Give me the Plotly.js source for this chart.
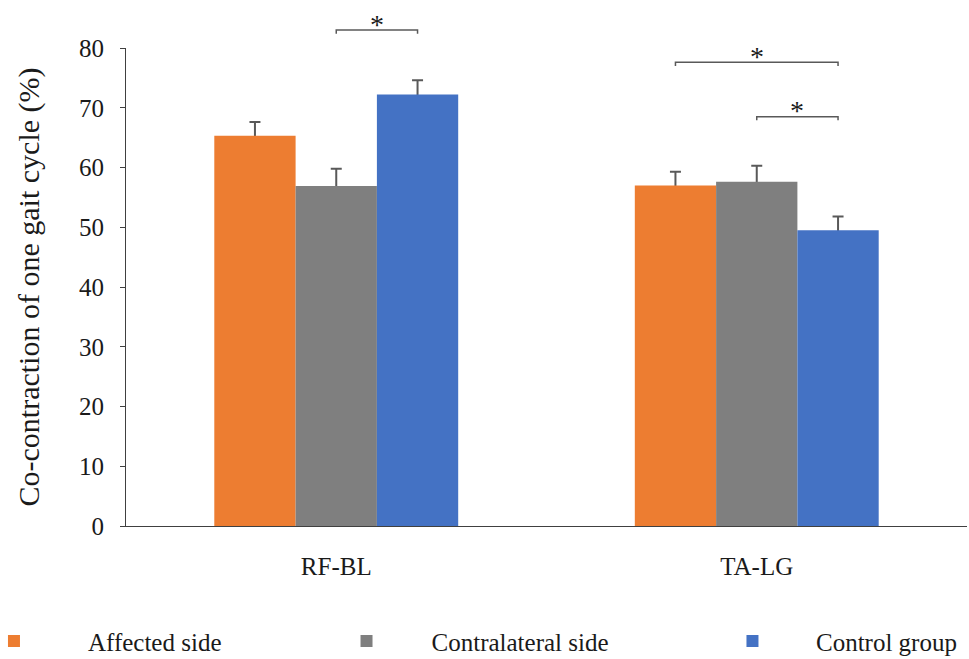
<!DOCTYPE html>
<html>
<head>
<meta charset="utf-8">
<script src="https://cdn.plot.ly/plotly-3.0.1.min.js"></script>
<style>html,body{margin:0;padding:0;background:#fff;}#chart{width:969px;height:659px;}</style>
</head>
<body>
<div id="chart"></div>
<script>
// ---- data ----
const categories = ['RF-BL', 'TA-LG'];
const seriesNames = ['Affected side', 'Contralateral side', 'Control group'];
const affected = [65.3, 57.0];
const affectedErr = [2.3, 2.3];
const contralateral = [56.9, 57.6];
const contralateralErr = [2.9, 2.7];
const control = [72.2, 49.5];
const controlErr = [2.4, 2.3];
const yTicks = [0, 10, 20, 30, 40, 50, 60, 70, 80];
// significance brackets: category index, bar index from, bar index to, level (%)
const bracketCat = [0, 1, 1];
const bracketFrom = [1, 0, 1];
const bracketTo = [2, 2, 2];
const bracketLevel = [83.0, 77.6, 68.5];
const bracketLabel = ['*', '*', '*'];

// ---- style ----
const colors = ['#ED7D31', '#7F7F7F', '#4472C4'];
const FONT = 'Liberation Serif, Times New Roman, serif';
const bargap = 0.42;
const yMax = 80;

const values = [affected, contralateral, control];
const errs = [affectedErr, contralateralErr, controlErr];
const legendIds = ['legend', 'legend2', 'legend3'];

// error bars live on transparent bars underneath; the visible bars (overlay subplot) hide the lower half
const errTraces = values.map((v, i) => ({
  type: 'bar', name: seriesNames[i], x: categories, y: v,
  marker: {color: 'rgba(0,0,0,0)', line: {width: 0}},
  error_y: {type: 'data', array: errs[i], color: '#595959', thickness: 2, width: 5.5},
  showlegend: false, hoverinfo: 'skip', xaxis: 'x', yaxis: 'y'
}));
const barTraces = values.map((v, i) => ({
  type: 'bar', name: seriesNames[i], x: categories, y: v,
  marker: {color: colors[i], line: {width: 0}},
  legend: legendIds[i], hoverinfo: 'x+y+name', xaxis: 'x2', yaxis: 'y2'
}));

// bar centre in category units -> paper x (range -0.5..1.5)
const nSeries = values.length;
const bw = (1 - bargap) / nSeries;
function barCenterPaper(cat, j) {
  const x = cat + (j - (nSeries - 1) / 2) * bw;
  return (x + 0.5) / categories.length;
}

const shapes = [];
const annotations = [];
for (let k = 0; k < bracketCat.length; k++) {
  const x0 = barCenterPaper(bracketCat[k], bracketFrom[k]);
  const x1 = barCenterPaper(bracketCat[k], bracketTo[k]);
  const yl = bracketLevel[k] / yMax;
  const drop = 0.6 / yMax;
  shapes.push({type: 'path', xref: 'paper', yref: 'paper',
    path: `M${x0},${yl - drop} L${x0},${yl} L${x1},${yl} L${x1},${yl - drop}`,
    line: {color: '#595959', width: 1.5}});
  annotations.push({xref: 'paper', yref: 'paper', x: (x0 + x1) / 2, y: yl,
    text: bracketLabel[k], showarrow: false, xanchor: 'center', yanchor: 'middle', yshift: 6,
    font: {family: FONT, size: 28, color: '#1a1a1a'}});
}

const legendBase = {orientation: 'h', yanchor: 'middle', y: -0.241, xanchor: 'left',
  bgcolor: 'rgba(0,0,0,0)', font: {family: FONT, size: 25, color: '#1a1a1a'}, itemclick: false, itemdoubleclick: false};

const layout = {
  width: 969, height: 659,
  margin: {l: 126, r: 2, t: 48, b: 133, autoexpand: false},
  paper_bgcolor: '#ffffff', plot_bgcolor: '#ffffff',
  font: {family: FONT, color: '#1a1a1a'},
  barmode: 'group', bargap: bargap, bargroupgap: 0,
  showlegend: true,
  legend: Object.assign({}, legendBase, {x: -0.2212, itemwidth: 138}),
  legend2: Object.assign({}, legendBase, {x: 0.2087, itemwidth: 120}),
  legend3: Object.assign({}, legendBase, {x: 0.6694, itemwidth: 117}),
  xaxis: {type: 'category', showline: true, linecolor: '#404040', linewidth: 1,
    ticks: '', showgrid: false, zeroline: false, automargin: false,
    tickfont: {family: FONT, size: 25, color: '#1a1a1a'}, ticklabelstandoff: 18},
  yaxis: {range: [0, yMax], tickvals: yTicks, ticktext: yTicks.map(String),
    showline: true, linecolor: '#404040', linewidth: 1, ticks: 'outside', ticklen: 5,
    tickcolor: '#404040', showgrid: false, zeroline: false, automargin: false,
    tickfont: {family: FONT, size: 25, color: '#1a1a1a'}, ticklabelstandoff: 11,
    title: {text: 'Co-contraction of one gait cycle (%)', standoff: 30,
            font: {family: FONT, size: 30, color: '#1a1a1a'}}},
  xaxis2: {type: 'category', overlaying: 'x', matches: 'x', visible: false, showgrid: false, zeroline: false},
  yaxis2: {range: [0, yMax], overlaying: 'y', visible: false, showgrid: false, zeroline: false},
  shapes: shapes,
  annotations: annotations
};

Plotly.newPlot('chart', errTraces.concat(barTraces), layout, {displayModeBar: false});
</script>
</body>
</html>
